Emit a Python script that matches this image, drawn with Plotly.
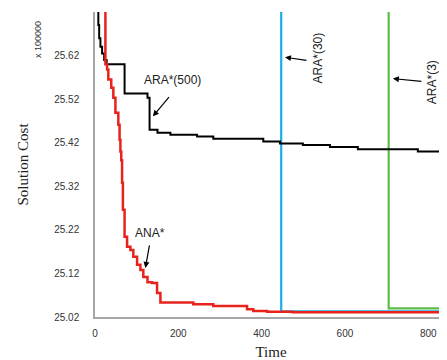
import plotly.graph_objects as go

# ARA*(500) - black
ara500_t = [6, 8, 10, 13, 17, 22, 28, 71, 126, 131, 150, 181, 245, 284, 404, 444, 499, 564, 631, 775, 845]
ara500_y = [25.78, 25.69, 25.66, 25.64, 25.625, 25.61, 25.60, 25.533, 25.523, 25.45, 25.443, 25.438,
            25.434, 25.429, 25.423, 25.418, 25.415, 25.41, 25.405, 25.40, 25.40]

# ANA* - red
ana_t = [21, 25, 29, 32, 39, 44, 49, 56, 59, 61, 63, 65, 67, 71, 77, 85, 92, 101, 109, 116, 126,
         137, 149, 157, 236, 284, 365, 380, 413, 475, 845]
ana_y = [25.78, 25.60, 25.588, 25.565, 25.546, 25.523, 25.489, 25.461, 25.427, 25.40, 25.38, 25.328,
         25.266, 25.204, 25.181, 25.174, 25.158, 25.14, 25.128, 25.112, 25.10, 25.098, 25.075, 25.053,
         25.049, 25.045, 25.038, 25.034, 25.032, 25.031, 25.031]

# ARA*(30) - blue
ara30_t = [447, 447, 845]
ara30_y = [25.78, 25.033, 25.033]

# ARA*(3) - green
ara3_t = [705, 705, 845]
ara3_y = [25.78, 25.04, 25.04]

x_ticks = [0, 200, 400, 600, 800]
y_ticks = [25.02, 25.12, 25.22, 25.32, 25.42, 25.52, 25.62]
y_tick_text = ["25.02", "25.12", "25.22", "25.32", "25.42", "25.52", "25.62"]

PY = 435.0       # pixels per cost unit


def ydat(py):
    return 25.02 + (317 - py) / PY


fig = go.Figure()
fig.add_trace(go.Scatter(x=ara30_t, y=ara30_y, mode="lines", line=dict(color="#1aaee6", width=2.2)))
fig.add_trace(go.Scatter(x=ara3_t, y=ara3_y, mode="lines", line=dict(color="#5dbb4a", width=2.2)))
fig.add_trace(go.Scatter(x=ara500_t, y=ara500_y, mode="lines", line=dict(color="black", width=2, shape="hv")))
fig.add_trace(go.Scatter(x=ana_t, y=ana_y, mode="lines", line=dict(color="#e8231c", width=2.5, shape="hv")))

afont = dict(family="Liberation Sans, Arial", size=12, color="#222")
arrow = dict(showarrow=True, arrowhead=2, arrowsize=1, arrowwidth=1.2, arrowcolor="black", text="")

fig.add_annotation(x=139, y=ydat(116.7), ax=170 - 152.7, ay=96 - 116.7, **arrow)
fig.add_annotation(x=186, y=ydat(80), text="ARA*(500)", showarrow=False, font=afont)

fig.add_annotation(x=121, y=ydat(268), ax=149.3 - 145, ay=244 - 268, **arrow)
fig.add_annotation(x=133, y=ydat(233), text="ANA*", showarrow=False, font=afont)

fig.add_annotation(x=456, y=ydat(57.7), ax=308 - 285, ay=61 - 57.7, **arrow)
fig.add_annotation(x=535, y=ydat(58), text="ARA*(30)", showarrow=False, textangle=-90, font=afont)

fig.add_annotation(x=715, y=ydat(79), ax=423 - 393, ay=82 - 79, **arrow)
fig.add_annotation(x=808, y=ydat(83), text="ARA*(3)", showarrow=False, textangle=-90, font=afont)

fig.add_annotation(xref="paper", yref="paper", x=-(95 - 38) / 352, y=(305 - (40 - 12)) / 305,
                   xanchor="center", yanchor="middle", text="x 100000", showarrow=False,
                   textangle=-90, font=dict(family="Liberation Sans, Arial", size=9, color="#333"))

# the page body adds an 8px offset, so the figure is sized/margined to compensate
fig.update_layout(
    width=439, height=352,
    margin=dict(l=87, r=0, t=4, b=43, autoexpand=False),
    plot_bgcolor="white", paper_bgcolor="white",
    showlegend=False,
    xaxis=dict(range=[0, 845], tickvals=x_ticks, showgrid=False, zeroline=False, automargin=False,
               showline=True, linecolor="#a6a6a6", linewidth=1.5, ticks="outside", ticklen=6,
               tickcolor="rgba(0,0,0,0)",
               tickfont=dict(family="Liberation Sans, Arial", size=10, color="#333"),
               title=dict(text="Time", font=dict(family="Liberation Serif, Times New Roman", size=15, color="#222"),
                          standoff=15)),
    yaxis=dict(range=[25.02, 25.72], tickvals=y_ticks, ticktext=y_tick_text, showgrid=False, zeroline=False,
               automargin=False,
               showline=True, linecolor="#a6a6a6", linewidth=1.5, ticks="outside", ticklen=12,
               tickcolor="rgba(0,0,0,0)",
               tickfont=dict(family="Liberation Sans, Arial", size=10, color="#333"),
               title=dict(text="Solution Cost", font=dict(family="Liberation Serif, Times New Roman", size=15, color="#222"),
                          standoff=22)),
)

fig.write_html("out.html")
